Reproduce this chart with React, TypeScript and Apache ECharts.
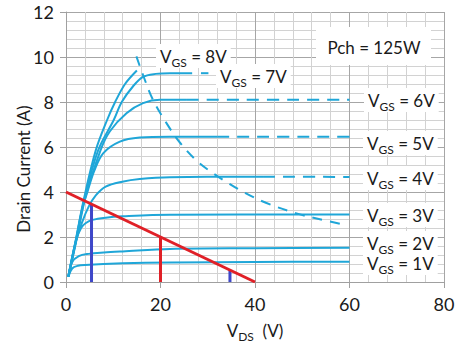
import React, { useEffect, useRef } from "react";
import * as echarts from "echarts";

// ---- data (V_DS [V], I_D [A]) ----
const vgs1 = [[0.5, 0.24], [1.3, 0.6], [2.5, 0.72], [4, 0.76], [12, 0.83], [22, 0.87], [40, 0.89], [60, 0.9]];
const vgs2 = [[0.5, 0.24], [1.3, 0.88], [2.7, 1.15], [4.8, 1.25], [8, 1.31], [12, 1.36], [22, 1.47], [40, 1.5], [60, 1.52]];
const vgs3 = [[0.5, 0.24], [1.3, 1.1], [2.2, 1.9], [3.2, 2.4], [4.2, 2.62], [5.6, 2.76], [8.4, 2.86], [12, 2.92], [22, 2.99], [60, 3.0]];
const vgs4Solid = [[0.5, 0.24], [2, 1.72], [3.4, 2.65], [4.8, 3.35], [6.3, 3.85], [8.4, 4.24], [11.9, 4.46], [15.6, 4.58], [22, 4.66], [41.7, 4.68]];
const vgs4Dash = [[41.7, 4.68], [60, 4.67]];
const vgs5Solid = [[0.5, 0.24], [2, 1.65], [3.8, 3.5], [4.6, 4.05], [6, 4.95], [7.9, 5.73], [11.4, 6.24], [15.6, 6.42], [22, 6.46], [32, 6.46]];
const vgs5Dash = [[32, 6.46], [60, 6.45]];
const vgs6Solid = [[0.5, 0.24], [2, 1.7], [3.8, 3.55], [7.3, 5.85], [9.3, 6.7], [12.8, 7.5], [16.3, 7.95], [19.9, 8.1], [25.6, 8.1]];
const vgs6Dash = [[25.6, 8.1], [60, 8.1]];
const vgs7Solid = [[0.5, 0.24], [2, 1.75], [3.8, 3.6], [6.8, 5.85], [10.1, 7.2], [11.8, 8.0], [14.2, 8.7], [16.3, 9.12], [19, 9.25], [22, 9.28], [26.7, 9.28]];
const vgs7Dash = [[26.7, 9.28], [31.5, 9.28]];
const vgs8 = [[0.5, 0.24], [2, 1.8], [3.8, 3.7], [6.3, 5.85], [8.7, 7.2], [10.4, 8.0], [12.5, 8.8], [15, 9.4]];
const powerLimit = [[14.9, 10.03], [16.3, 9.2], [18.4, 8.1], [21.3, 7.05], [24.1, 6.2], [27.6, 5.4], [30.8, 4.88], [34.3, 4.4], [37.8, 3.97], [42.3, 3.52], [48.6, 3.06], [53.5, 2.8], [58.4, 2.57]];
const loadLine = [[0, 4], [40, 0]];
const redDrop = [[20, 0], [20, 2]];
const blueDropA = [[5.4, 0], [5.4, 3.46]];
const blueDropB = [[34.7, 0], [34.7, 0.53]];

const xTicks = { min: 0, max: 80, interval: 20 };
const yTicks = { min: 0, max: 12, interval: 2 };
const vgsLabels = ["8V", "7V", "6V", "5V", "4V", "3V", "2V", "1V"];

const CYAN = "#1fa6d8";
const RED = "#e02027";
const BLUE = "#3e47c9";
const FONT = "Lato, 'Open Sans', sans-serif";

const curve = (name: string, data: number[][], dashed = false, extra: any = {}) => ({
  name,
  type: "line",
  data,
  smooth: 0.35,
  symbol: "none",
  z: 3,
  lineStyle: { color: CYAN, width: 2, type: dashed ? [12, 8] : "solid", ...extra },
});

const straight = (name: string, data: number[][], color: string, width: number, z: number) => ({
  name,
  type: "line",
  data,
  symbol: "none",
  z,
  lineStyle: { color, width },
});

const richV = {
  v: { fontSize: 17, fontFamily: FONT, fill: "#1a1a1a", color: "#1a1a1a", lineHeight: 24 },
  s: { fontSize: 12, fontFamily: FONT, fill: "#1a1a1a", color: "#1a1a1a", lineHeight: 12, verticalAlign: "bottom" },
};

const vgsText = (label: string, x: number, y: number, z: number) => ({
  type: "text",
  x,
  y,
  z,
  style: {
    text: `{v|V}{s|GS}{v| = ${label}}`,
    rich: richV,
    verticalAlign: "middle",
    align: "left",
    backgroundColor: "#ffffff",
    padding: [0, 4, 0, 4],
  },
});

export default function App() {
  const ref = useRef<HTMLDivElement>(null);
  useEffect(() => {
    if (!ref.current) return;
    const chart = echarts.init(ref.current, undefined, { renderer: "svg" });
    const labelPos: Record<string, [number, number]> = {
      "8V": [156, 56],
      "7V": [216, 76],
      "6V": [364, 100],
      "5V": [363, 143],
      "4V": [363, 178],
      "3V": [363, 215],
      "2V": [363, 243],
      "1V": [363, 263],
    };
    chart.setOption({
      animation: false,
      backgroundColor: "#ffffff",
      grid: { left: 66, top: 12, right: 32, bottom: 62, outerBoundsMode: "none", containLabel: false },
      xAxis: {
        type: "value",
        ...xTicks,
        axisLine: { show: true, lineStyle: { color: "#a0a0a0", width: 1 } },
        axisTick: { show: true, length: 6, lineStyle: { color: "#a0a0a0" } },
        axisLabel: { fontSize: 18, fontFamily: FONT, color: "#1a1a1a", margin: 13 },
        splitLine: { show: true, lineStyle: { color: "#a6a6a6", width: 1 } },
        minorTick: { show: false, splitNumber: 5 },
        minorSplitLine: { show: true, lineStyle: { color: "#d2d2d2", width: 1 } },
        name: "{v|V}{s|DS}{v|  (V)}",
        nameLocation: "middle",
        nameGap: 36,
        nameTextStyle: { rich: richV, fontSize: 17, fontFamily: FONT, color: "#1a1a1a" },
      },
      yAxis: {
        type: "value",
        ...yTicks,
        axisLine: { show: true, lineStyle: { color: "#a0a0a0", width: 1 } },
        axisTick: { show: true, length: 6, lineStyle: { color: "#a0a0a0" } },
        axisLabel: { fontSize: 18, fontFamily: FONT, color: "#1a1a1a", margin: 12 },
        splitLine: { show: true, lineStyle: { color: "#a6a6a6", width: 1 } },
        minorTick: { show: false, splitNumber: 5 },
        minorSplitLine: { show: true, lineStyle: { color: "#d2d2d2", width: 1 } },
      },
      series: [
        curve("VGS=1V", vgs1),
        curve("VGS=2V", vgs2),
        curve("VGS=3V", vgs3),
        curve("VGS=4V", vgs4Solid),
        curve("VGS=4V dashed", vgs4Dash, true),
        curve("VGS=5V", vgs5Solid),
        curve("VGS=5V dashed", vgs5Dash, true),
        curve("VGS=6V", vgs6Solid),
        curve("VGS=6V dashed", vgs6Dash, true),
        curve("VGS=7V", vgs7Solid),
        curve("VGS=7V dashed", vgs7Dash, true, { type: [7, 9], dashOffset: 7 }),
        curve("VGS=8V", vgs8),
        curve("Pch limit", powerLimit, true, { type: [10, 8] }),
        straight("drop A", blueDropA, BLUE, 3, 4),
        straight("drop B", blueDropB, BLUE, 3, 4),
        straight("drop 20V", redDrop, RED, 3, 5),
        straight("load line", loadLine, RED, 3, 6),
      ],
      graphic: [
        ...vgsLabels.map((l, i) => vgsText(l, labelPos[l][0], labelPos[l][1], 110 - i)),
        {
          type: "rect",
          z: 99,
          shape: { x: 316, y: 27, width: 115, height: 38 },
          style: { fill: "#ffffff" },
        },
        {
          type: "text",
          x: 374,
          y: 47,
          z: 100,
          style: {
            text: "Pch = 125W",
            fontSize: 17,
            fontFamily: FONT,
            fill: "#1a1a1a",
            align: "center",
            verticalAlign: "middle",
          },
        },
        {
          type: "text",
          x: 23,
          y: 169,
          rotation: Math.PI / 2,
          z: 100,
          style: {
            text: "Drain Current (A)",
            fontSize: 17,
            fontFamily: FONT,
            fill: "#1a1a1a",
            align: "center",
            verticalAlign: "middle",
          },
        },
      ],
    });
    return () => chart.dispose();
  }, []);
  return <div ref={ref} style={{ width: 476, height: 344, position: "absolute", left: 0, top: 0 }} />;
}
